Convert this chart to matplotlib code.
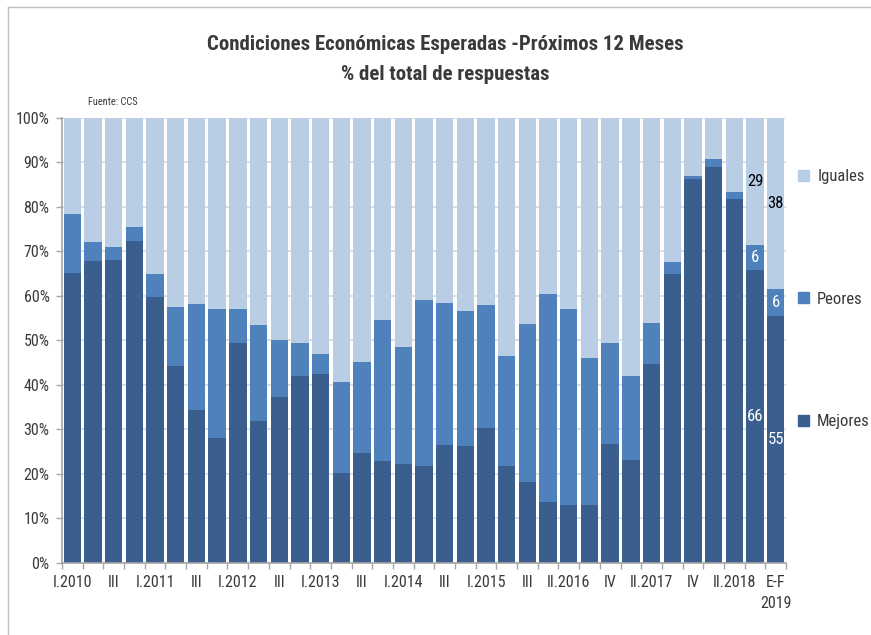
import matplotlib.pyplot as plt
import numpy as np
from matplotlib.lines import Line2D
from matplotlib.patches import Patch

plt.rcParams['font.family'] = ['Roboto Condensed', 'DejaVu Sans']
plt.rcParams['font.stretch'] = 'condensed'

# periods: one label every second bar, as in the original
tick_labels = ["I.2010", "", "III", "", "I.2011", "", "III", "", "I.2012", "",
               "III", "", "I.2013", "", "III", "", "I.2014", "", "III", "",
               "I.2015", "", "III", "", "II.2016", "", "IV", "", "II.2017", "",
               "IV", "", "II.2018", "", "E-F\n2019"]

mejores = [65.2, 67.9, 68.0, 72.2, 59.6, 44.2, 34.4, 28.0, 49.4, 31.9,
           37.3, 41.9, 42.5, 20.1, 24.6, 22.8, 22.1, 21.8, 26.5, 26.2,
           30.3, 21.8, 18.1, 13.6, 12.9, 13.0, 26.7, 23.1, 44.7, 64.8,
           86.3, 88.9, 81.8, 65.7, 55.4]
peores = [13.2, 4.2, 2.9, 3.3, 5.2, 13.3, 23.7, 28.9, 7.6, 21.5,
          12.8, 7.4, 4.5, 20.6, 20.5, 31.7, 26.4, 37.2, 31.8, 30.3,
          27.5, 24.6, 35.6, 46.8, 44.0, 33.1, 22.7, 18.8, 9.2, 2.7,
          0.6, 1.7, 1.6, 5.6, 6.2]
iguales = [21.6, 27.9, 29.1, 24.5, 35.2, 42.5, 41.9, 43.1, 43.0, 46.6,
           49.9, 50.7, 53.0, 59.3, 54.9, 45.5, 51.5, 41.0, 41.7, 43.5,
           42.2, 53.6, 46.3, 39.6, 43.1, 53.9, 50.6, 58.1, 46.1, 32.5,
           13.1, 9.4, 16.6, 28.7, 38.4]
labeled_bars = [33, 34]

c_mej = "#3A5F8E"
c_peo = "#4F81BD"
c_igu = "#B9CDE5"
txt = "#3A3A3A"
grid_c = "#D9D9D9"
axis_c = "#A6A6A6"

x = np.arange(len(tick_labels))
mej = np.array(mejores)
peo = np.array(peores)
igu = np.array(iguales)

fig = plt.figure(figsize=(8.71, 6.35), dpi=100)
ax = fig.add_axes([0.0712, 0.1139, 0.8312, 0.7008])

w = 0.84
ax.bar(x, mej, w, color=c_mej, zorder=2)
ax.bar(x, peo, w, bottom=mej, color=c_peo, zorder=2)
ax.bar(x, igu, w, bottom=mej + peo, color=c_igu, zorder=2)

for i in labeled_bars:
    ax.text(x[i], mej[i] / 2, f"{mej[i]:.0f}", ha="center", va="center",
            color="white", fontsize=12, zorder=3)
    ax.text(x[i], mej[i] + peo[i] / 2, f"{peo[i]:.0f}", ha="center", va="center",
            color="white", fontsize=12, zorder=3)
    ax.text(x[i], mej[i] + peo[i] + igu[i] / 2, f"{igu[i]:.0f}", ha="center",
            va="center", color="black", fontsize=12, zorder=3)

ax.set_xlim(-0.5, len(x) - 0.5)
ax.set_ylim(0, 100)
ax.set_yticks(np.arange(0, 101, 10))
ax.set_yticklabels([f"{v}%" for v in range(0, 101, 10)])
ax.yaxis.grid(True, color=grid_c, linewidth=1.2, zorder=0)
ax.set_axisbelow(True)

ax.set_xticks(x)
ax.set_xticklabels(tick_labels, linespacing=1.45)
ax.set_xticks(np.arange(-0.5, len(x), 1), minor=True)
ax.tick_params(axis="x", which="major", length=0, pad=9, labelsize=11.5, labelcolor=txt)
ax.tick_params(axis="x", which="minor", length=4, color=axis_c, width=1)
ax.tick_params(axis="y", length=4, color=axis_c, width=1, labelsize=11.5, labelcolor=txt, pad=5)

for s in ["top", "right"]:
    ax.spines[s].set_visible(False)
for s in ["left", "bottom"]:
    ax.spines[s].set_color(axis_c)
    ax.spines[s].set_linewidth(1.2)

fig.text(0.511, 0.93, "Condiciones Económicas Esperadas -Próximos 12 Meses",
         ha="center", va="center", fontsize=15, fontweight="bold", color=txt)
fig.text(0.511, 0.883, "% del total de respuestas",
         ha="center", va="center", fontsize=15, fontweight="bold", color=txt)
fig.text(0.101, 0.84, "Fuente: CCS", ha="left", va="center", fontsize=7.5, color=txt)

handles = [Patch(color=c_igu), Patch(color=c_peo), Patch(color=c_mej)]
fig.legend(handles, ["Iguales", "Peores", "Mejores"], loc="center left",
           bbox_to_anchor=(0.899, 0.529), frameon=False, fontsize=12,
           handlelength=0.65, handleheight=0.65, handletextpad=0.5,
           labelspacing=6.45, labelcolor=txt)

# frame of the original screenshot
fig.add_artist(Line2D([0.0092, 0.0092], [0, 0.989], color="#BFBFBF", lw=1))
fig.add_artist(Line2D([0.0092, 1], [0.989, 0.989], color="#BFBFBF", lw=1))

fig.savefig("out.png", dpi=100)
